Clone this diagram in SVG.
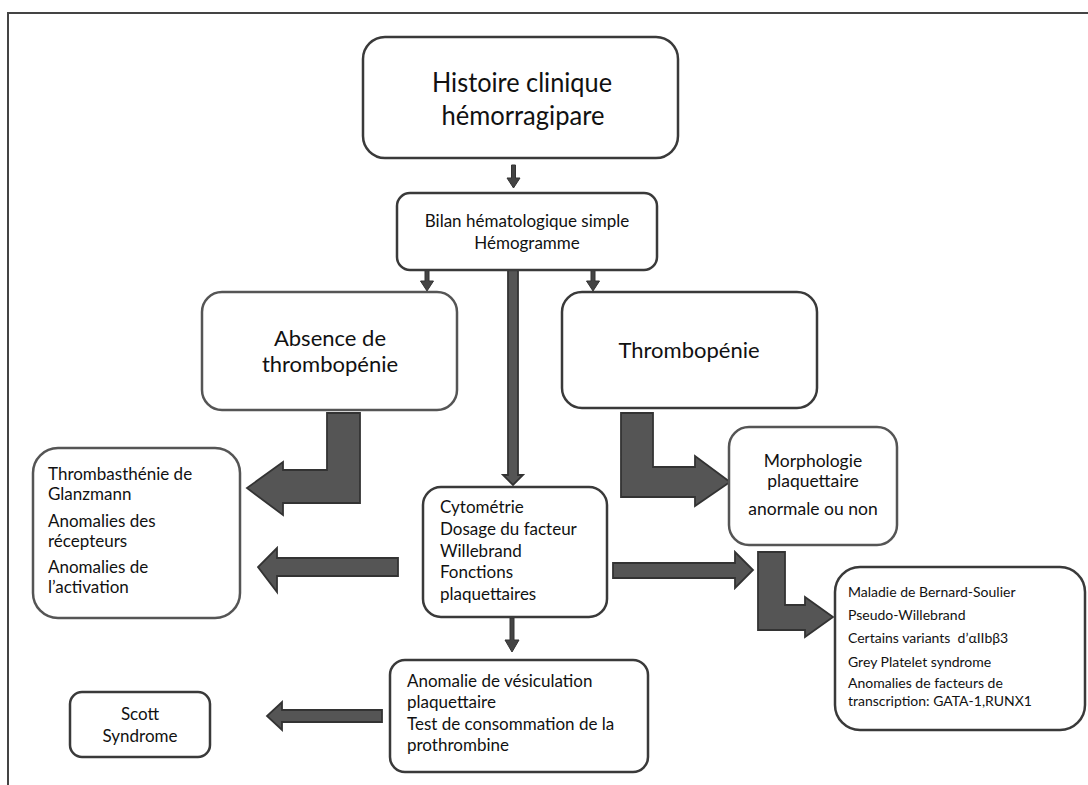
<svg xmlns="http://www.w3.org/2000/svg" width="1088" height="785" viewBox="0 0 1088 785">
<style>
.box{fill:#fff;stroke:#3a3a3a;stroke-width:2.5}
.boxl{fill:#fff;stroke:#555;stroke-width:2.5}
.t{font-family:Lato,"Open Sans","Liberation Sans",sans-serif;fill:#111}
.c{text-anchor:middle}
.arr{fill:#555;stroke:#333;stroke-width:1.8;stroke-linejoin:miter}
.sm{fill:#444;stroke:#333;stroke-width:1}
</style>
<rect width="1088" height="785" fill="#fff"/>
<polyline points="8,785 8,13 1088,13" fill="none" stroke="#444" stroke-width="2"/>

<g id="connectors">
  <polygon class="sm" points="511.5,165 515.5,165 515.5,178 520,178 513.5,188 507,178 511.5,178"/>
  <polygon class="sm" points="425,270 429,270 429,281 433.5,281 427,291 420.5,281 425,281"/>
  <polygon class="sm" points="591,270 595,270 595,281 599.5,281 593,291 586.5,281 591,281"/>
  <polygon class="arr" points="508,268 518,268 518,475 523,475 513,485 503,475 508,475"/>
  <polygon class="sm" points="510,618 514,618 514,640 519,640 512,652 505,640 510,640"/>
  <polygon class="arr" points="327,413 360,413 360,503 283,503 283,515 247,488 283,462 283,470 327,470"/>
  <polygon class="arr" points="398,558 398,576 277,576 277,592 258,567 277,548 277,558"/>
  <polygon class="arr" points="613,563 735,563 735,552 753,570 735,588 735,578 613,578"/>
  <polygon class="arr" points="621,413 653,413 653,467 695,467 695,456 730,482 695,506 695,497 621,497"/>
  <polygon class="arr" points="758,552 785,552 785,605 805,605 805,597 833,617 805,637 805,630 758,630"/>
  <polygon class="arr" points="382,710 382,722 282,722 282,730 267,716 282,702 282,710"/>
</g>

<g id="histoire">
  <rect class="box" x="363" y="37" width="315" height="121" rx="22"/>
  <text class="t c" x="522" y="92" font-size="27" textLength="180" lengthAdjust="spacingAndGlyphs">Histoire clinique</text>
  <text class="t c" x="523" y="125" font-size="27" textLength="163" lengthAdjust="spacingAndGlyphs">hémorragipare</text>
</g>

<g id="bilan">
  <rect class="box" x="397" y="193" width="260" height="77" rx="13"/>
  <text class="t c" x="527" y="227" font-size="17">Bilan hématologique simple</text>
  <text class="t c" x="527" y="249" font-size="17">Hémogramme</text>
</g>

<g id="absence">
  <rect class="boxl" x="202" y="292" width="255" height="118" rx="20"/>
  <text class="t c" x="330" y="346" font-size="22">Absence de</text>
  <text class="t c" x="330" y="372" font-size="22">thrombopénie</text>
</g>

<g id="thrombopenie">
  <rect class="box" x="562" y="292" width="255" height="116" rx="20"/>
  <text class="t c" x="689" y="358" font-size="22">Thrombopénie</text>
</g>

<g id="thrombasthenie">
  <rect class="boxl" x="33" y="448" width="207" height="170" rx="25"/>
  <text class="t" x="48" y="480" font-size="17">Thrombasthénie de</text>
  <text class="t" x="48" y="500" font-size="17">Glanzmann</text>
  <text class="t" x="48" y="527" font-size="17">Anomalies des</text>
  <text class="t" x="48" y="547" font-size="17">récepteurs</text>
  <text class="t" x="48" y="573" font-size="17">Anomalies de</text>
  <text class="t" x="48" y="593" font-size="17">l’activation</text>
</g>

<g id="cytometrie">
  <rect class="box" x="423" y="487" width="184" height="130" rx="18"/>
  <text class="t" x="440" y="513" font-size="17">Cytométrie</text>
  <text class="t" x="440" y="535" font-size="17">Dosage du facteur</text>
  <text class="t" x="440" y="557" font-size="17">Willebrand</text>
  <text class="t" x="440" y="578" font-size="17">Fonctions</text>
  <text class="t" x="440" y="600" font-size="17">plaquettaires</text>
</g>

<g id="morphologie">
  <rect class="boxl" x="729" y="427" width="168" height="118" rx="20"/>
  <text class="t c" x="813" y="467" font-size="17.5">Morphologie</text>
  <text class="t c" x="813" y="487" font-size="17.5">plaquettaire</text>
  <text class="t c" x="813" y="515" font-size="17.5">anormale ou non</text>
</g>

<g id="maladie">
  <rect class="box" x="835" y="567" width="250" height="163" rx="25"/>
  <text class="t" x="848" y="597" font-size="14">Maladie de Bernard-Soulier</text>
  <text class="t" x="848" y="620" font-size="14">Pseudo-Willebrand</text>
  <text class="t" x="848" y="643" font-size="14">Certains variants&#160; d’αIIbβ3</text>
  <text class="t" x="848" y="667" font-size="14">Grey Platelet syndrome</text>
  <text class="t" x="848" y="688" font-size="14">Anomalies de facteurs de</text>
  <text class="t" x="848" y="706" font-size="14">transcription: GATA-1,RUNX1</text>
</g>

<g id="vesiculation">
  <rect class="box" x="390" y="660" width="258" height="112" rx="15"/>
  <text class="t" x="407" y="687" font-size="17">Anomalie de vésiculation</text>
  <text class="t" x="407" y="708" font-size="17">plaquettaire</text>
  <text class="t" x="407" y="730" font-size="17">Test de consommation de la</text>
  <text class="t" x="407" y="751" font-size="17">prothrombine</text>
</g>

<g id="scott">
  <rect class="box" x="70" y="692" width="140" height="65" rx="12"/>
  <text class="t c" x="140" y="720" font-size="17">Scott</text>
  <text class="t c" x="140" y="742" font-size="17">Syndrome</text>
</g>
</svg>
